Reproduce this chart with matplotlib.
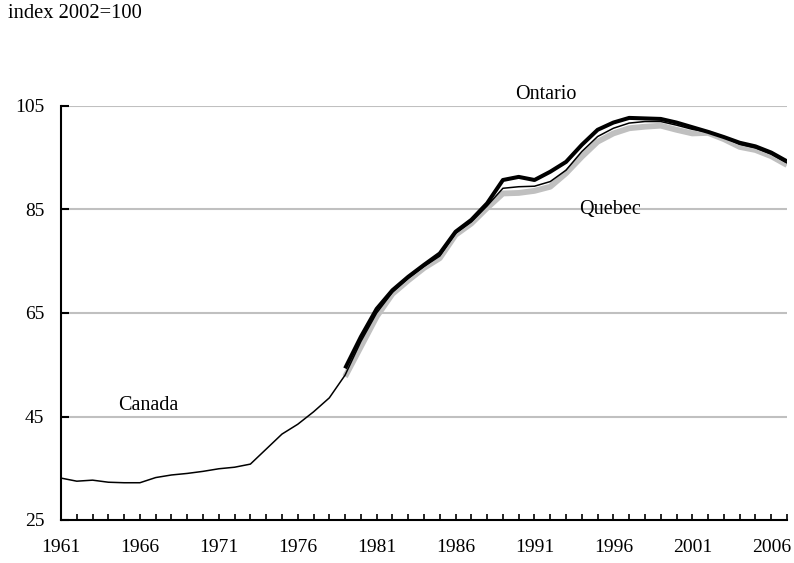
import matplotlib.pyplot as plt

plt.rcParams["font.family"] = ["Liberation Serif", "DejaVu Serif"]

# Jahre 1961-2007
years_canada = list(range(1961, 2008))
canada = [33.1, 32.5, 32.7, 32.3, 32.2, 32.2, 33.2, 33.7, 34.0, 34.4,
          34.9, 35.2, 35.8, 38.7, 41.6, 43.5, 45.9, 48.6, 53.0, 59.5,
          65.0, 69.0, 71.7, 74.0, 76.0, 80.4, 82.6, 85.7, 89.1, 89.4,
          89.5, 90.4, 92.6, 96.2, 99.1, 100.7, 101.7, 102.0, 102.0, 101.3,
          100.5, 100.0, 99.0, 97.6, 96.9, 95.7, 94.0]

years_prov = list(range(1979, 2008))
ontario = [54.3, 60.4, 65.8, 69.4, 72.0, 74.3, 76.5, 80.7, 83.0, 86.2,
           90.7, 91.3, 90.7, 92.3, 94.2, 97.5, 100.4, 101.8, 102.7, 102.6,
           102.5, 101.8, 100.9, 100.0, 99.0, 97.9, 97.2, 96.0, 94.3]
quebec = [52.7, 58.5, 64.3, 68.7, 71.3, 73.7, 75.6, 80.1, 82.3, 85.3,
          88.1, 88.2, 88.6, 89.4, 92.0, 95.2, 98.1, 99.7, 100.7, 101.0,
          101.2, 100.4, 99.7, 99.8, 98.6, 97.1, 96.5, 95.3, 93.6]

xtick_years = list(range(1961, 2007, 5))
yticks = [25, 45, 65, 85, 105]

fig = plt.figure(figsize=(7.94, 5.63), dpi=100)
ax = fig.add_axes([61 / 794, 1 - 520 / 563, (787 - 61) / 794, (520 - 106) / 563])

ax.plot(years_prov, quebec, color="#c0c0c0", linewidth=4.2, zorder=3,
        solid_capstyle="butt")
ax.plot(years_prov, ontario, color="black", linewidth=2.9, zorder=4,
        solid_capstyle="butt")
ax.plot(years_canada, canada, color="black", linewidth=1.1, zorder=5)

ax.set_xlim(1961, 2007)
ax.set_ylim(25, 105)
ax.set_yticks(yticks)
ax.set_xticks(years_canada, minor=False)
ax.set_xticklabels([str(y) if y in xtick_years else "" for y in years_canada])

for y in yticks[1:]:
    ax.axhline(y, color="#c0c0c0", linewidth=1.5, zorder=1)

for s in ["top", "right"]:
    ax.spines[s].set_visible(False)
for s in ["left", "bottom"]:
    ax.spines[s].set_linewidth(1.5)
    ax.spines[s].set_zorder(6)

ax.tick_params(axis="x", direction="in", length=4, width=1.2,
               labelsize=14, pad=14)
ax.tick_params(axis="y", direction="in", length=6, width=1.5,
               labelsize=14, pad=12)

ax.text(1991.7, 107.2, "Ontario", ha="center", va="center", fontsize=14.5)
ax.text(1995.8, 85, "Quebec", ha="center", va="center", fontsize=14.5, zorder=7)
ax.text(1966.5, 47.2, "Canada", ha="center", va="center", fontsize=14.5)

fig.text(8 / 794, 1 - 14 / 563, "index 2002=100", ha="left", va="center",
         fontsize=14.8)

fig.savefig("out.png", dpi=100)
plt.close(fig)
